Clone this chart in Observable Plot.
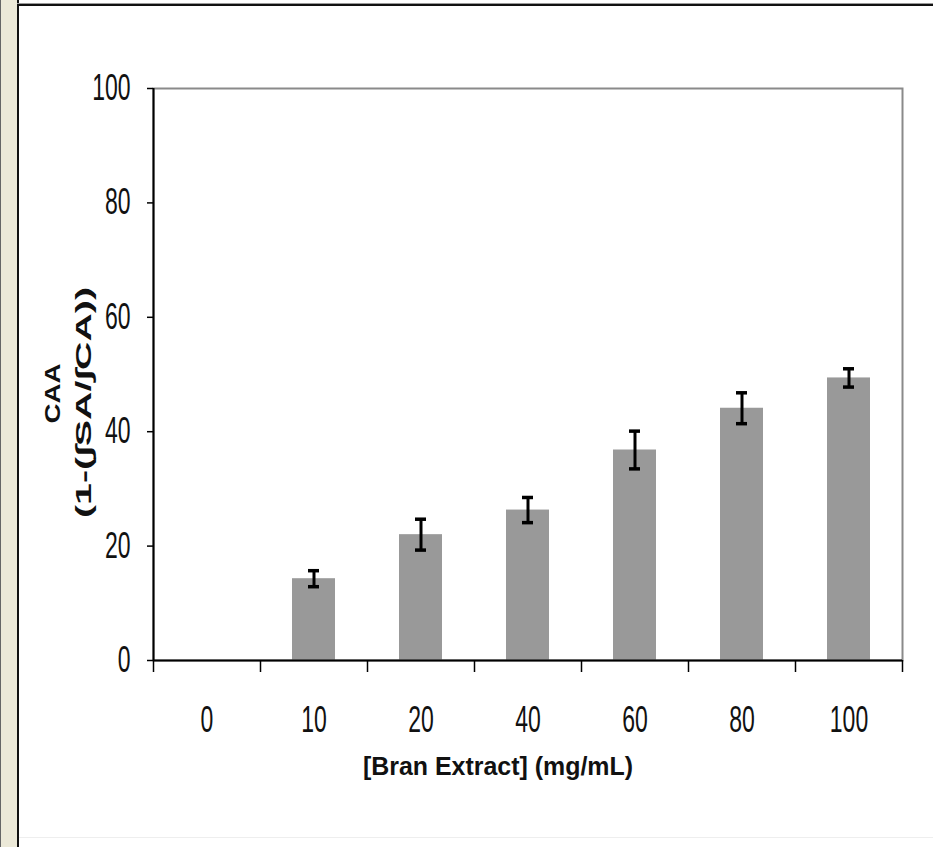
<!DOCTYPE html>
<html><head><meta charset="utf-8">
<script src="https://cdn.jsdelivr.net/npm/d3@7"></script>
<script src="https://cdn.jsdelivr.net/npm/@observablehq/plot@0.6"></script>
<style>
body{margin:0;background:#fff}
#wrap{position:relative;width:933px;height:847px;overflow:hidden;background:#fff}
.strip{position:absolute;left:0;top:0;width:17px;height:847px;background:#ece9d8;border-left:1px solid #666;box-sizing:border-box}
.vline{position:absolute;left:17px;top:0;width:2px;height:847px;background:#111}
.hline{position:absolute;left:17px;top:3px;right:0;height:3px;border-top:1px solid #999;background:#111;box-sizing:border-box}
.bline{position:absolute;left:19px;top:837px;right:0;height:1px;background:#eee}
#chart{position:absolute;left:0;top:0}
</style></head><body>
<div id="wrap"><div class="strip"></div><div class="vline"></div><div class="hline"></div><div class="bline"></div><div id="chart"></div></div>
<script>
const categories = ["0", "10", "20", "40", "60", "80", "100"];
const caaValues = [0, 14.3, 22.0, 26.3, 36.8, 44.1, 49.4];
const errValues = [0, 1.4, 2.7, 2.2, 3.3, 2.7, 1.6];
const yTicks = [0, 20, 40, 60, 80, 100];
const xLabel = "[Bran Extract] (mg/mL)";
const yLabel1 = "CAA";
const yLabel2 = "(1-(\u222BSA/\u222BCA))";

const data = categories.map((c, i) => ({dose: c, caa: caaValues[i], err: errValues[i]}));
const errData = data.filter(d => d.err > 0);

const W = 933, H = 847, mL = 153, mR = 31, mT = 88, mB = 187;
const step = (W - mL - mR) / categories.length;
const font = "'Liberation Sans', Arial, sans-serif";

const plot = Plot.plot({
  width: W, height: H,
  marginLeft: mL, marginRight: mR, marginTop: mT, marginBottom: mB,
  style: {background: "transparent", fontFamily: font, color: "#111"},
  x: {type: "band", domain: categories, paddingInner: 0.6, paddingOuter: 0.3},
  y: {domain: [0, 100]},
  marks: [
    Plot.frame({stroke: "#8a8a8a", strokeWidth: 2}),
    Plot.barY(data, {x: "dose", y: "caa", fill: "#999999"}),
    Plot.ruleX(errData, {x: "dose", y1: d => d.caa - d.err, y2: d => d.caa + d.err, stroke: "#000", strokeWidth: 3}),
    Plot.tickY(errData, {x: "dose", y: d => d.caa + d.err, stroke: "#000", strokeWidth: 3.5, inset: 16}),
    Plot.tickY(errData, {x: "dose", y: d => d.caa - d.err, stroke: "#000", strokeWidth: 3.5, inset: 16}),
    Plot.ruleY([0], {stroke: "#000", strokeWidth: 2}),
    Plot.ruleX([categories[0]], {x: d => d, y1: 0, y2: 100, dx: -step / 2, stroke: "#000", strokeWidth: 2}),
    Plot.ruleX(categories, {x: d => d, y1: 0, y2: 0, insetBottom: -12, dx: -step / 2, stroke: "#000", strokeWidth: 1.5}),
    Plot.ruleX([categories[categories.length - 1]], {x: d => d, y1: 0, y2: 0, insetBottom: -12, dx: step / 2, stroke: "#000", strokeWidth: 1.5}),
    Plot.axisY({ticks: yTicks, tickSize: 6, tickPadding: 17, fontSize: 23, label: null, stroke: "#000", strokeWidth: 1.5}),
    Plot.axisX({tickSize: 0, tickPadding: 46, fontSize: 23, label: null}),
    Plot.text([yLabel1], {frameAnchor: "left", textAnchor: "middle", dx: -101, dy: 19, rotate: -90, fontWeight: "bold", fontSize: 22, fill: "#111"}),
    Plot.text([yLabel2], {frameAnchor: "left", textAnchor: "middle", dx: -70, dy: 28, rotate: -90, fontWeight: "bold", fontSize: 22, fill: "#111"}),
    Plot.text([xLabel], {frameAnchor: "bottom", lineAnchor: "middle", dx: -30, dy: 106, fontWeight: "bold", fontSize: 25, fill: "#111"})
  ]
});

document.getElementById("chart").appendChild(plot);

function stretch(t, sy) {
  const tr = t.getAttribute("transform");
  if (tr) {
    t.setAttribute("transform", `${tr} scale(1,${sy})`);
  } else {
    const x = t.getAttribute("x") || "0", y = t.getAttribute("y") || "0";
    const isNum = v => /^-?[\d.]+$/.test(v);
    const tx = isNum(x) ? x : 0, ty = isNum(y) ? y : 0;
    if (isNum(x)) t.removeAttribute("x");
    if (isNum(y)) t.removeAttribute("y");
    t.setAttribute("transform", `translate(${tx},${ty}) scale(1,${sy})`);
  }
}
plot.querySelectorAll('g[aria-label="y-axis tick label"] text, g[aria-label="x-axis tick label"] text').forEach(t => stretch(t, 1.57));
const lens = {[yLabel1]: 60, [yLabel2]: 231, [xLabel]: 270};
plot.querySelectorAll('g[aria-label="text"] text').forEach(t => {
  const L = lens[t.textContent];
  if (L) { t.setAttribute("textLength", L); t.setAttribute("lengthAdjust", "spacingAndGlyphs"); }
});
</script>
</body></html>
